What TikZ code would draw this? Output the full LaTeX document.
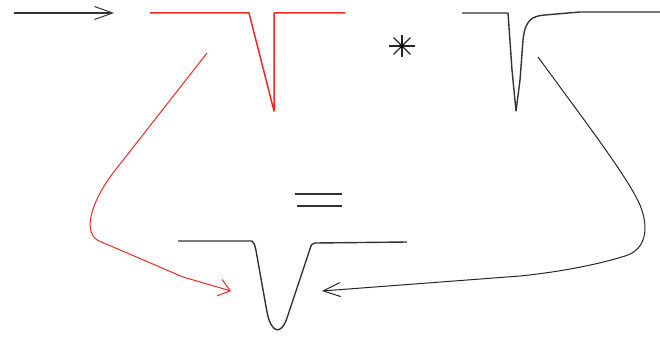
\documentclass[tikz,border=0pt]{standalone}
\usetikzlibrary{arrows.meta,calc}
\definecolor{pulsered}{RGB}{240,40,40}
\tikzset{
  blk/.style={draw=black!80, line width=1.4pt, line join=round},
  redl/.style={draw=pulsered, line width=1.5pt, line join=round},
  conn/.style={line width=1pt, line join=round},
  barbtop/.style={-{Straight Barb[length=18pt,width=13pt,line width=1pt]}},
  barbred/.style={-{Straight Barb[length=11pt,width=17pt,line width=1pt]}},
  barbblk/.style={-{Straight Barb[length=17pt,width=14pt,line width=1pt]}}
}
\begin{document}
\begin{tikzpicture}[x=1pt,y=-1pt]
\useasboundingbox (0,0) rectangle (660,337);
% named points
\coordinate (inS) at (14,13);
\coordinate (inE) at (114,13);
\coordinate (redS) at (207,53);
\coordinate (redE) at (231,291);
\coordinate (blkS) at (538,57);
\coordinate (blkE) at (322,291);
\coordinate (ast) at (402,46);
% input arrow
\draw[blk, line width=1.2pt, barbtop] (inS) -- (inE);
% red pulse
\draw[redl] (150,13) -- (249,13) -- (274,111) -- (274,13) -- (345,13);
% asterisk
\foreach \a/\r in {0/13,90/11,45/12,135/12}{
  \draw[black!85, line width=1.1pt] ($(ast)+(\a:\r)$) -- ($(ast)+(\a+180:\r)$);
}
\fill[black] (ast) circle (2pt);
% black response
\draw[blk] (462,13) -- (508,13) -- (512,70) -- (516,111) -- (520,80) -- (523,40)
  .. controls (525,20) and (532,16) .. (545,15) -- (580,12) -- (660,12);
% equals
\draw[blk] (295,194) -- (342,194);
\draw[blk] (297,206) -- (342,206);
% result pulse
\draw[blk] (178,241) -- (252,241) .. controls (255,243) and (256,250) .. (258,262)
  -- (267,312) .. controls (271,333) and (281,336) .. (287,318)
  -- (310,249) .. controls (311,245) and (312,243) .. (315,243) -- (407,242);
% red connector
\draw[conn, pulsered, barbred] (redS) -- (113,173)
  .. controls (96,195) and (80,230) .. (98,240.5) -- (183,277) -- (redE);
% black connector
\draw[conn, black!85, barbblk] (blkS) .. controls (590,128) and (628,178) .. (640,205)
  .. controls (650,230) and (645,250) .. (625,256)
  .. controls (600,264) and (560,272) .. (520,276) -- (blkE);
\end{tikzpicture}
\end{document}
